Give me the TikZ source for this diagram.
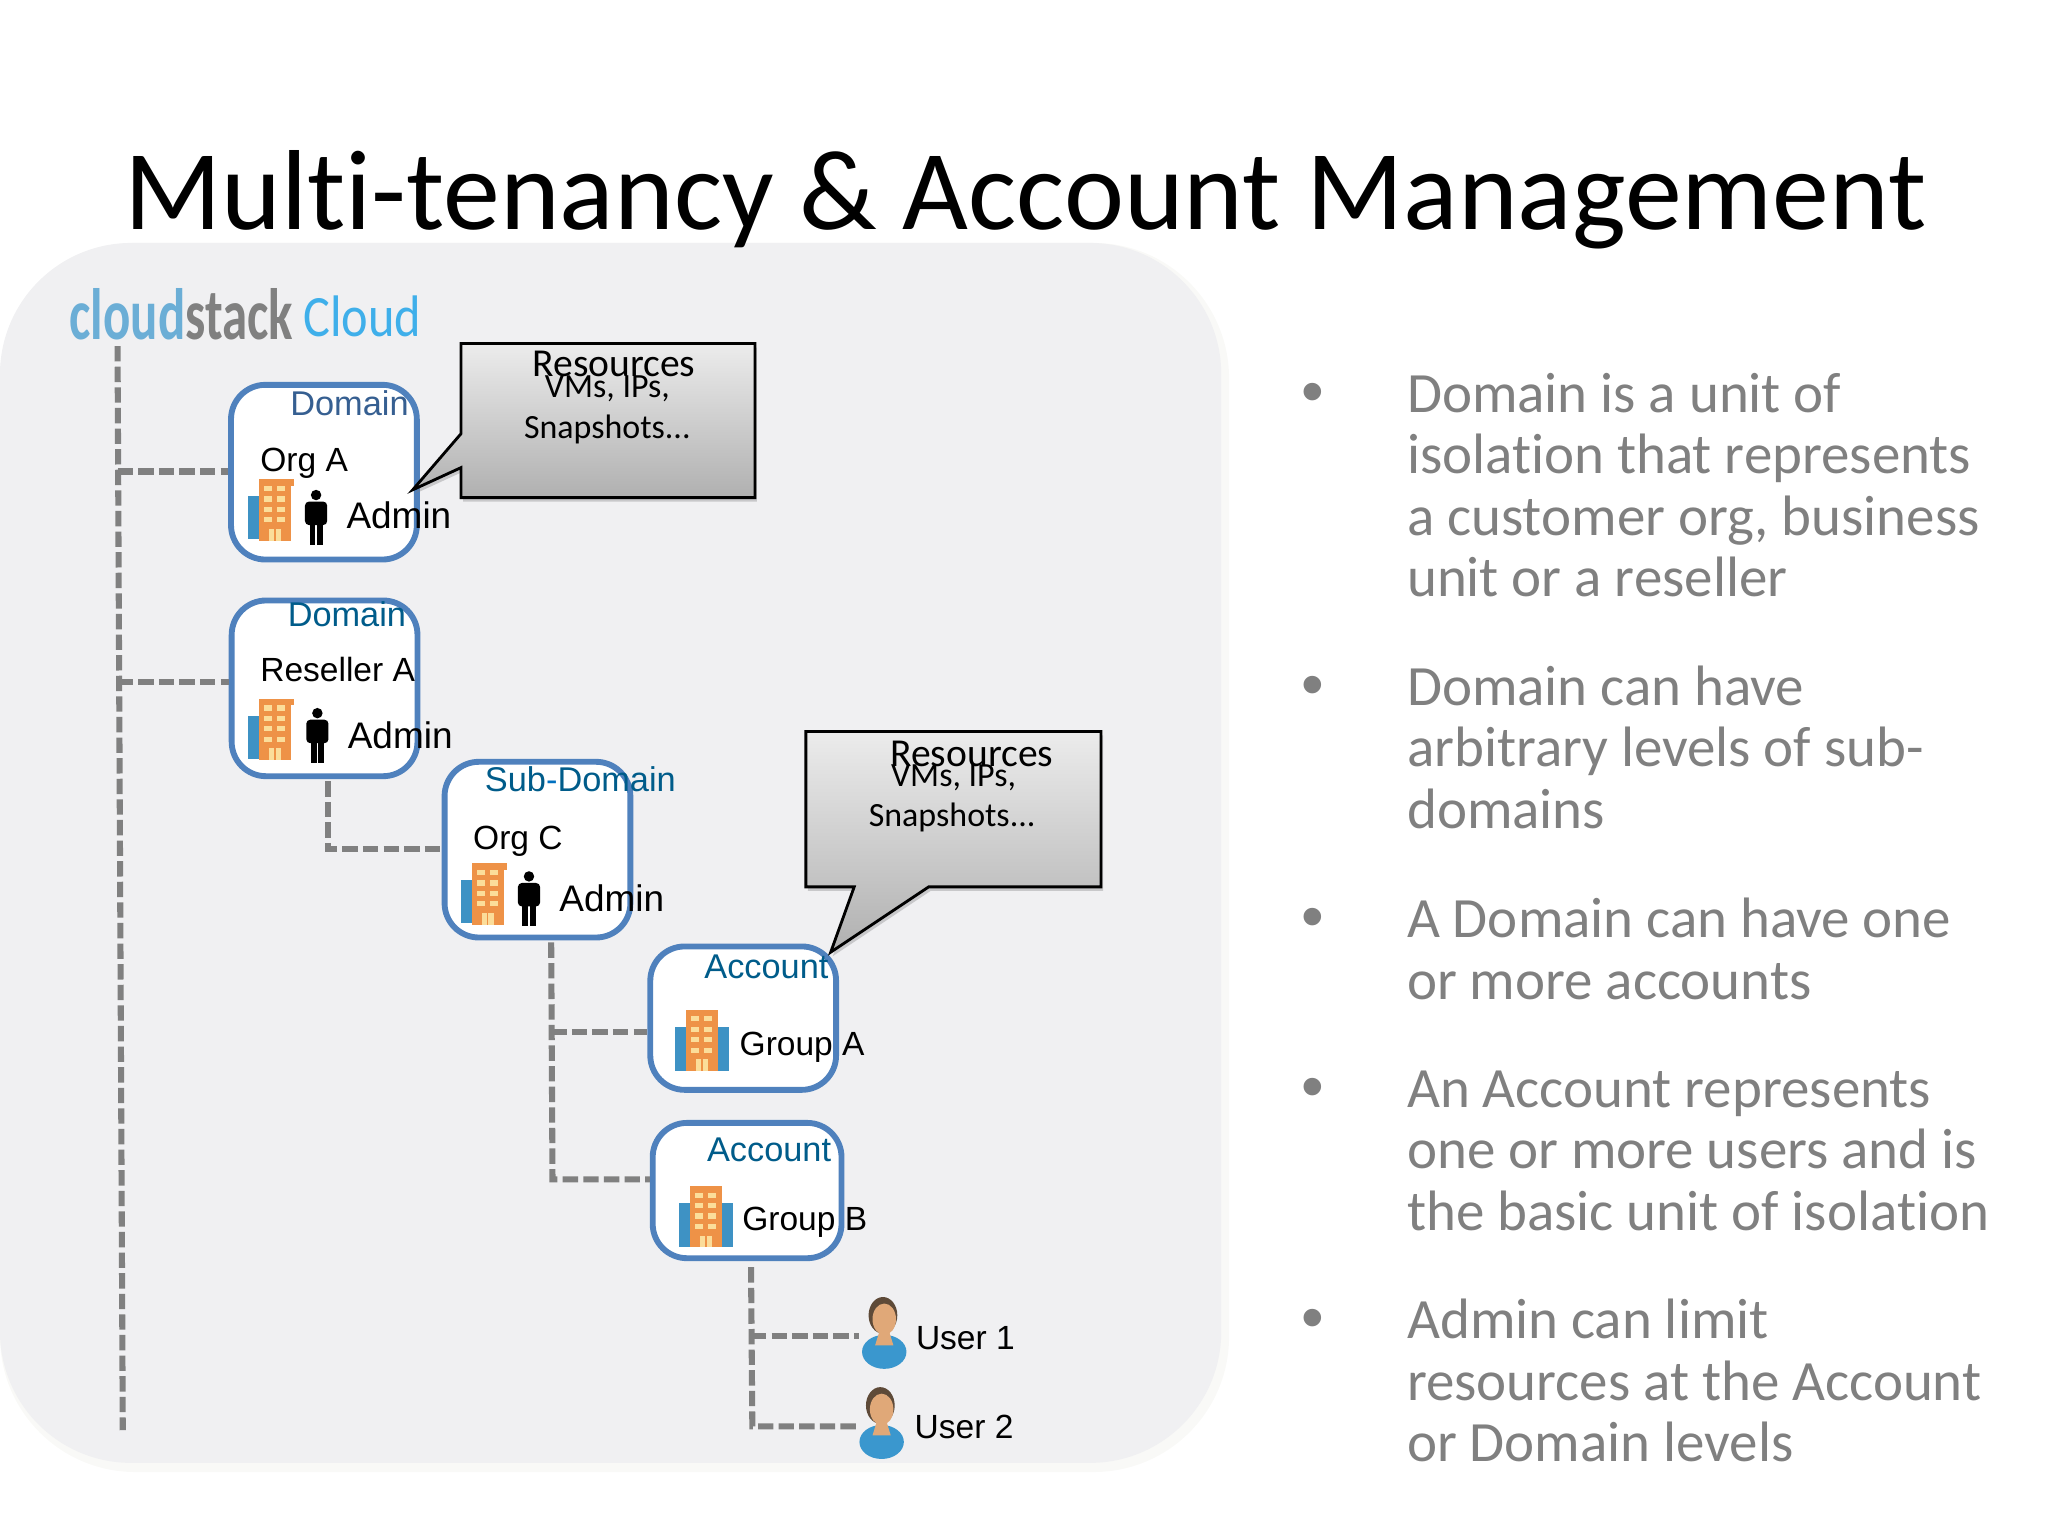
\documentclass[tikz,border=0pt]{standalone}
\usepackage{fontspec}
\setmainfont{Carlito}[Ligatures=NoCommon]
\newfontfamily\arialfont{Liberation Sans}
\usetikzlibrary{shadows}

\definecolor{panelgray}{HTML}{F0F0F2}
\definecolor{panelrim}{HTML}{F9F9F7}
\definecolor{boxblue}{HTML}{4F81BD}
\definecolor{titlegray}{HTML}{808080}
\definecolor{domainblue}{HTML}{365F91}
\definecolor{tealblue}{HTML}{005C8A}
\definecolor{hyphenblue}{HTML}{0070C0}
\definecolor{logoblue}{HTML}{6BAED6}
\definecolor{cloudblue}{HTML}{3FAFEA}
\definecolor{towerorange}{HTML}{EE9247}
\definecolor{towerblue}{HTML}{3E92C4}
\definecolor{windowyellow}{HTML}{FBDD9A}
\definecolor{hairbrown}{HTML}{5E4A38}
\definecolor{skintan}{HTML}{E0A878}
\definecolor{shirtblue}{HTML}{3A97CE}

\newcommand{\towerbody}{
    \fill[towerorange] (0,0) rectangle (25,47);
    \foreach \r in {0,...,3}
        \foreach \c in {0,1}
            \fill[windowyellow] ({4+\c*10},{5+\r*8}) rectangle +(6,4);
    \fill[windowyellow] (8,38) rectangle (17,47);
    \fill[towerorange] (12,38) rectangle (13,47);
}

\begin{document}
\begin{tikzpicture}[
    x=0.6467pt,y=-0.6467pt,
    tenant/.style={draw=boxblue,fill=white,line width=2.9pt,rounded corners=17pt,
        minimum width=92pt,inner sep=0pt},
    treeline/.style={draw=titlegray,line width=3pt,dash pattern=on 7.6pt off 2.6pt},
    lbl/.style={font={\arialfont\fontsize{16.6}{20}\selectfont},anchor=base west,inner sep=0pt},
    adminlbl/.style={lbl,font={\arialfont\fontsize{18.3}{20}\selectfont}},
    head/.style={lbl,font={\arialfont\fontsize{17}{20}\selectfont},text=tealblue},
    note/.style={font={\fontsize{19.6}{20}\selectfont},inner sep=0pt,anchor=base},
    notesmall/.style={note,font={\fontsize{16.8}{20}\selectfont}},
    balloon/.style={draw=black,line width=1.4pt,line join=miter,top color=gray!15,bottom color=gray!62,
        drop shadow={shadow xshift=1pt,shadow yshift=-2pt,opacity=.35}},
    point/.style={font={\arialfont\fontsize{32}{30}\selectfont},text=titlegray,inner sep=0pt},
    para/.style={font={\fontsize{28.2}{30.4}\selectfont},text=titlegray,align=left,
        anchor=north west,inner sep=0pt},
    towerleft/.pic={
        \fill[towerblue] (-8,13) rectangle (2,46);
        \towerbody
        \fill[towerorange] (25,0) rectangle (27,5);
    },
    towerwide/.pic={
        \fill[towerblue] (-8,13) rectangle (33,47);
        \towerbody
    },
    adminfig/.pic={
        \fill[black] (0,4) circle (4);
        \fill[black,rounded corners=2pt] (-8.5,9) rectangle (8.5,27);
        \fill[black] (-5,20) rectangle (-0.5,42);
        \fill[black] (0.5,20) rectangle (5,42);
    },
    userfig/.pic={
        \fill[shirtblue] (0,42) ellipse (17 and 13);
        \fill[hairbrown] (-1,14) ellipse (11 and 14);
        \fill[skintan] (0,17) ellipse (9 and 12);
        \fill[skintan] (-3,24) -- (3,24) -- (7,37) -- (-7,37) -- cycle;
    },
    ]

    \useasboundingbox (0,0) rectangle (1568,1176);

    % panel
    \fill[panelrim,rounded corners=67pt] (0,186) rectangle (941,1127);
    \fill[panelgray,rounded corners=65pt] (0,186) rectangle (935,1120);

    % title
    \node[font={\fontsize{56.35}{70}\selectfont},anchor=base,inner sep=0pt] (title) at (785,176) {Multi-tenancy \& Account Management};

    % logo
    \node[font={\bfseries\fontsize{36}{40}\selectfont},xscale=.70,anchor=base west,inner sep=0pt,text=logoblue] (logo) at (53,260) {cloud\textcolor{titlegray}{stack}};
    \node[font={\fontsize{29}{30}\selectfont},xscale=.86,anchor=base west,inner sep=0pt,text=cloudblue] (cloudname) at (232,258) {Cloud};

    % tree joints
    \coordinate (trunktop) at (90,265);
    \coordinate (trunkend) at (94,1095);
    \coordinate (jointa) at (90,361);
    \coordinate (jointb) at (90,522);
    \coordinate (jointc) at (251,650);
    \coordinate (jointd) at (422,790);
    \coordinate (jointe) at (423,903);
    \coordinate (jointf) at (575,1023);
    \coordinate (jointg) at (576,1092);

    % tenants
    \node[tenant,minimum height=86.5pt] (orga) at (248,361.5) {};
    \node[tenant,minimum height=87pt] (resellera) at (248.5,527) {};
    \node[tenant,minimum height=87pt] (orgc) at (411.5,650.5) {};
    \node[tenant,minimum height=71pt] (groupa) at (569,779.5) {};
    \node[tenant,minimum width=93.5pt,minimum height=67pt] (groupb) at (572,911.5) {};

    % users
    \coordinate (usera) at (658,1023);
    \coordinate (userb) at (656,1092);

    % dashed tree
    \draw[treeline] (trunktop) -- (trunkend);
    \draw[treeline] (jointa) -- (jointa -| orga.west);
    \draw[treeline] (jointb) -- (jointb -| resellera.west);
    \draw[treeline] ([yshift=-1pt]jointc |- resellera.south) -- (jointc) -- (jointc -| orgc.west);
    \draw[treeline] ([yshift=-1pt]jointd |- orgc.south) -- (jointe) -- (jointe -| groupb.west);
    \draw[treeline] (jointd) -- (jointd -| groupa.west);
    \draw[treeline] ([yshift=-3pt]jointf |- groupb.south) -- (jointg) -- (userb);
    \draw[treeline] (jointf) -- (usera);

    % Resources, first balloon
    \path[balloon] (353,263) -- (578,263) -- (578,381) -- (353,381) -- (353,358) -- (316,375) -- (353,332) -- cycle;
    \node[note] (resa) at (470,288) {Resources};
    \node[notesmall] (vmsa) at (465,304) {VMs, IPs,};
    \node[notesmall] (snapa) at (465,336) {Snapshots...};

    % Resources, second balloon
    \path[balloon] (617,560) -- (843,560) -- (843,679) -- (711,679) -- (636,729) -- (654,679) -- (617,679) -- cycle;
    \node[note] (resb) at (744,587) {Resources};
    \node[notesmall] (vmsb) at (730,602) {VMs, IPs,};
    \node[notesmall] (snapb) at (729,633) {Snapshots...};

    % first domain
    \node[head,text=domainblue] (heada) at (222,318) {Domain};
    \node[lbl] (namea) at (199,361) {Org A};
    \pic at (198,367) {towerleft};
    \pic at (242,375) {adminfig};
    \node[adminlbl] (admina) at (265,405) {Admin};

    % second domain
    \node[head] (headb) at (220,480) {Domain};
    \node[lbl] (nameb) at (199,522) {Reseller A};
    \pic at (198,535) {towerleft};
    \pic at (243,542) {adminfig};
    \node[adminlbl] (adminb) at (266,573) {Admin};

    % sub domain
    \node[head] (headc) at (371,606) {Sub\textcolor{hyphenblue}{-}Domain};
    \node[lbl] (namec) at (362,650) {Org C};
    \pic at (361,661) {towerleft};
    \pic at (405,667) {adminfig};
    \node[adminlbl] (adminc) at (428,698) {Admin};

    % accounts
    \node[head] (headd) at (539,749) {Account};
    \pic at (525,773) {towerwide};
    \node[lbl] (named) at (566,808) {Group A};
    \node[head] (heade) at (541,889) {Account};
    \pic at (528,908) {towerwide};
    \node[lbl] (namee) at (568,942) {Group B};

    % users
    \pic at (677,993) {userfig};
    \node[lbl] (namef) at (701,1033) {User 1};
    \pic at (675,1062) {userfig};
    \node[lbl] (nameg) at (700,1101) {User 2};

    % bullets
    \node[point] (pta) at (1005,305) {•};
    \node[point] (ptb) at (1005,529) {•};
    \node[point] (ptc) at (1005,707) {•};
    \node[point] (ptd) at (1005,837) {•};
    \node[point] (pte) at (1005,1014) {•};

    \node[para] (txta) at (1077,285.5) {Domain is a unit of\\isolation that represents\\a customer org, business\\unit or a reseller};
    \node[para] (txtb) at (1077,509.5) {Domain can have\\arbitrary levels of sub-\\domains};
    \node[para] (txtc) at (1077,687.5) {A Domain can have one\\or more accounts};
    \node[para] (txtd) at (1077,819.5) {An Account represents\\one or more users and is\\the basic unit of isolation};
    \node[para] (txte) at (1077,994.5) {Admin can limit\\resources at the Account\\or Domain levels};

\end{tikzpicture}
\end{document}
